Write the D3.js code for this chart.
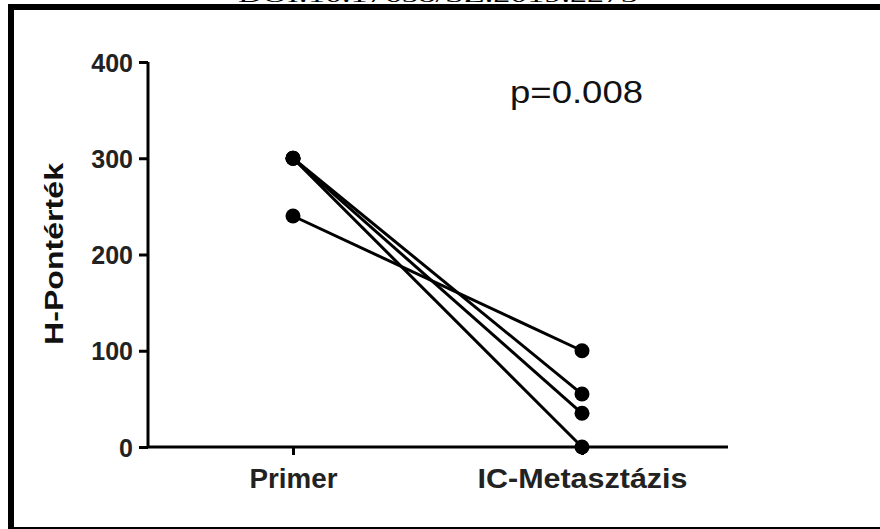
<!DOCTYPE html>
<html><head><meta charset="utf-8">
<script src="https://cdn.jsdelivr.net/npm/d3@7"></script>
<style>body{margin:0;background:#fff}svg{display:block}</style>
</head><body>
<script>
const groups = ["Primer", "IC-Metasztázis"];
const primerValues = [300, 300, 300, 240];
const metastasisValues = [0, 35, 55, 100];
const yTicks = [0, 100, 200, 300, 400];
const yTitle = "H-Pontérték";
const annotation = "p=0.008";
const headerText = "DOI:10.17658/SZ.2019.2273";

const W = 880, H = 529;
const svg = d3.select("body").append("svg").attr("width", W).attr("height", H);

// header (cut off)
svg.append("text").attr("x", 438).attr("y", 2).attr("text-anchor", "middle")
  .attr("font-family", "Liberation Serif, serif").attr("font-size", 20)
  .attr("textLength", 400).attr("lengthAdjust", "spacingAndGlyphs")
  .attr("fill", "#000").text(headerText);

// frame
svg.append("rect").attr("x", 8).attr("y", 4).attr("width", W - 8).attr("height", 6).attr("fill", "#000");
svg.append("rect").attr("x", 8).attr("y", 4).attr("width", 6).attr("height", H - 4).attr("fill", "#000");
svg.append("rect").attr("x", 8).attr("y", 527).attr("width", W - 8).attr("height", 2).attr("fill", "#000");

const x = d3.scalePoint().domain(groups).range([293, 582]);
const y = d3.scaleLinear().domain([0, 400]).range([447, 62]);
const axisLeft = 148, axisRight = 728;

const font = "Liberation Sans, Arial, sans-serif";

// y axis
const ya = svg.append("g").attr("transform", `translate(${axisLeft},0)`)
  .call(d3.axisLeft(y).tickValues(yTicks).tickSize(9).tickPadding(6).tickFormat(d3.format("d")));
ya.select(".domain").attr("d", `M0,${y(400)}V${y(0)}`).attr("stroke", "#000").attr("stroke-width", 3);
ya.selectAll(".tick line").attr("stroke", "#000").attr("stroke-width", 3);
ya.selectAll(".tick text").attr("font-family", font).attr("font-weight", "bold")
  .attr("font-size", 25).attr("fill", "#222").attr("dy", "0.36em");

// x axis
const xa = svg.append("g").attr("transform", `translate(0,${y(0)})`)
  .call(d3.axisBottom(x).tickSize(8).tickPadding(14));
xa.select(".domain").attr("d", `M${axisLeft},0H${axisRight}`).attr("stroke", "#000").attr("stroke-width", 3);
xa.selectAll(".tick line").attr("stroke", "#000").attr("stroke-width", 3);
const xLens = {"Primer": 88, "IC-Metasztázis": 210};
xa.selectAll(".tick text").attr("font-family", font).attr("font-weight", "bold")
  .attr("font-size", 27).attr("fill", "#222").attr("dy", "0.71em")
  .attr("textLength", d => xLens[d]).attr("lengthAdjust", "spacingAndGlyphs");

// y title
svg.append("text").attr("transform", `translate(63,254) rotate(-90)`)
  .attr("text-anchor", "middle").attr("font-family", font).attr("font-weight", "bold")
  .attr("font-size", 26).attr("fill", "#111")
  .attr("textLength", 182).attr("lengthAdjust", "spacingAndGlyphs").text(yTitle);

// annotation
svg.append("text").attr("x", 510).attr("y", 103).attr("font-family", font)
  .attr("font-size", 32).attr("fill", "#111")
  .attr("textLength", 133).attr("lengthAdjust", "spacingAndGlyphs").text(annotation);

// paired data
const pairs = primerValues.map((p, i) => [p, metastasisValues[i]]);
const line = d3.line().x((d, i) => x(groups[i])).y(d => y(d));
svg.append("g").selectAll("path").data(pairs).join("path")
  .attr("d", line).attr("fill", "none").attr("stroke", "#000").attr("stroke-width", 3);

const pts = [];
pairs.forEach(pr => pr.forEach((v, i) => pts.push({g: groups[i], v})));
svg.append("g").selectAll("circle").data(pts).join("circle")
  .attr("cx", d => x(d.g)).attr("cy", d => y(d.v)).attr("r", 7.5).attr("fill", "#000");
</script>
</body></html>
